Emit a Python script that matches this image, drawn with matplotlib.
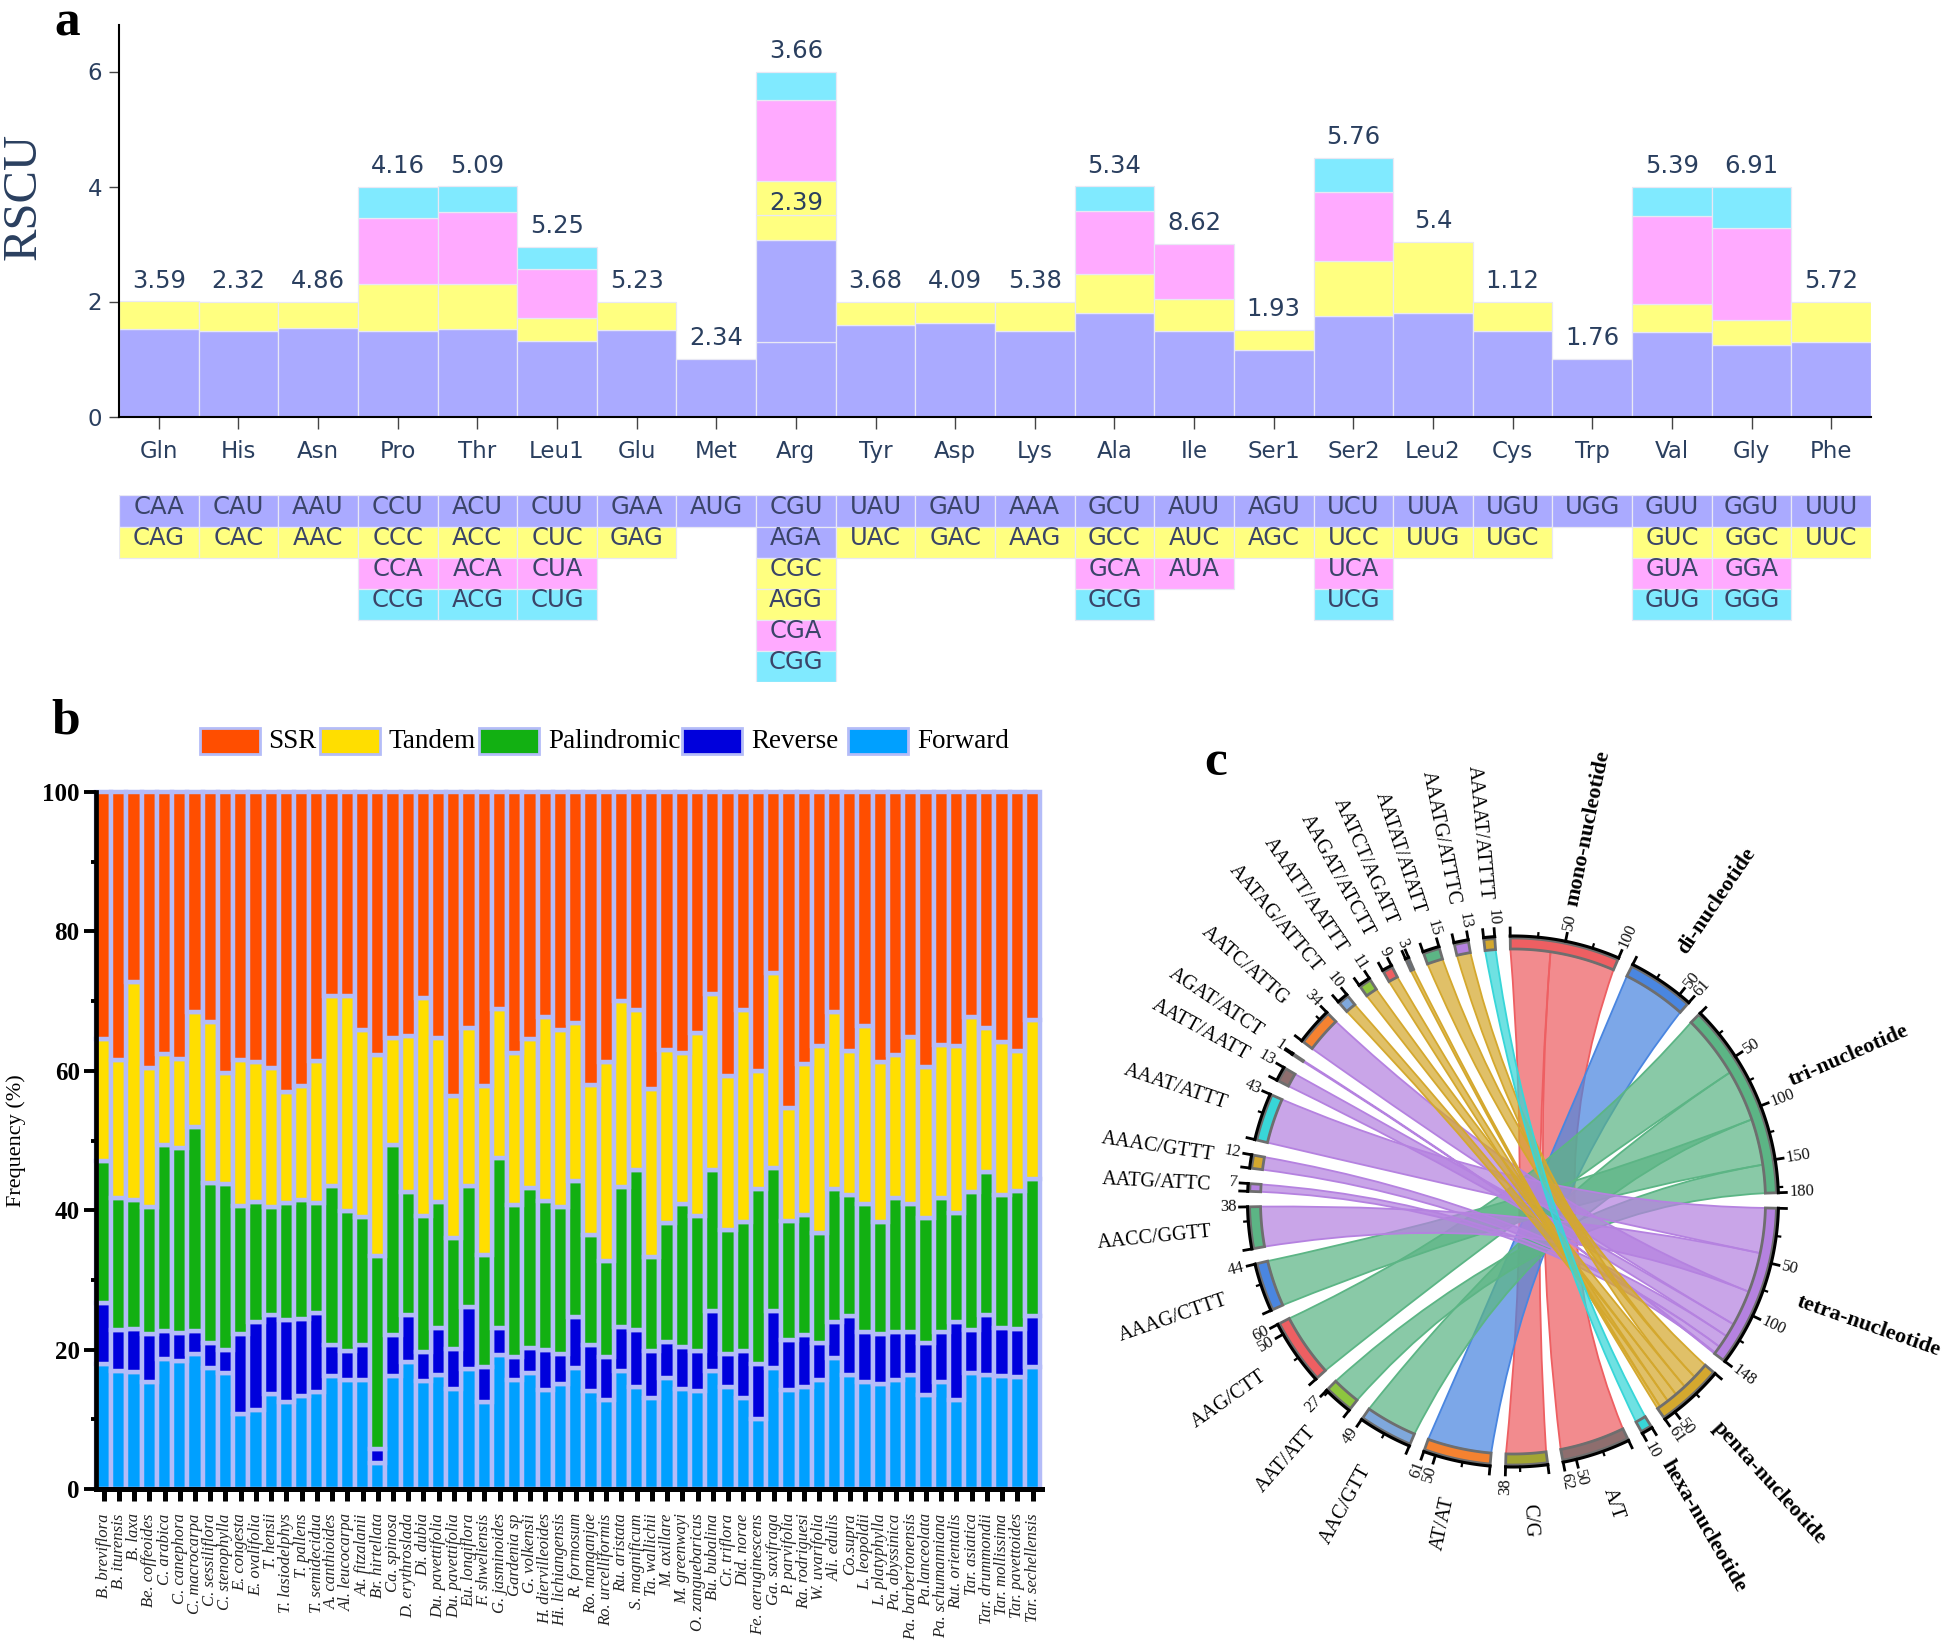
import numpy as np
import matplotlib
matplotlib.use('Agg')
import matplotlib.pyplot as plt
from matplotlib.patches import PathPatch, Rectangle
from matplotlib.path import Path

W, H = 1944, 1641
SERIF = 'Liberation Serif'
NAVY = '#2a3f5f'

# panel a
amino_acids = ['Gln', 'His', 'Asn', 'Pro', 'Thr', 'Leu1', 'Glu', 'Met', 'Arg', 'Tyr', 'Asp', 'Lys',
               'Ala', 'Ile', 'Ser1', 'Ser2', 'Leu2', 'Cys', 'Trp', 'Val', 'Gly', 'Phe']
top_labels = ['3.59', '2.32', '4.86', '4.16', '5.09', '5.25', '5.23', '2.34', '3.66', '3.68', '4.09', '5.38',
              '5.34', '8.62', '1.93', '5.76', '5.4', '1.12', '1.76', '5.39', '6.91', '5.72']
codons = [['CAA', 'CAG'], ['CAU', 'CAC'], ['AAU', 'AAC'], ['CCU', 'CCC', 'CCA', 'CCG'],
          ['ACU', 'ACC', 'ACA', 'ACG'], ['CUU', 'CUC', 'CUA', 'CUG'], ['GAA', 'GAG'], ['AUG'],
          ['CGU', 'AGA', 'CGC', 'AGG', 'CGA', 'CGG'], ['UAU', 'UAC'], ['GAU', 'GAC'], ['AAA', 'AAG'],
          ['GCU', 'GCC', 'GCA', 'GCG'], ['AUU', 'AUC', 'AUA'], ['AGU', 'AGC'],
          ['UCU', 'UCC', 'UCA', 'UCG'], ['UUA', 'UUG'], ['UGU', 'UGC'], ['UGG'],
          ['GUU', 'GUC', 'GUA', 'GUG'], ['GGU', 'GGC', 'GGA', 'GGG'], ['UUU', 'UUC']]
rscu = [[1.52, 0.48], [1.49, 0.51], [1.54, 0.46], [1.49, 0.81, 1.15, 0.55],
        [1.53, 0.78, 1.25, 0.44], [1.31, 0.41, 0.85, 0.38], [1.50, 0.50], [1.00],
        [1.29, 1.78, 0.43, 0.59, 1.41, 0.50], [1.60, 0.40], [1.63, 0.37], [1.48, 0.52],
        [1.80, 0.67, 1.10, 0.43], [1.49, 0.56, 0.95], [1.15, 0.35],
        [1.75, 0.95, 1.20, 0.60], [1.80, 1.23], [1.49, 0.51], [1.00],
        [1.47, 0.49, 1.52, 0.52], [1.24, 0.44, 1.60, 0.72], [1.29, 0.71]]
arg_colours = ['#AAAAFF', '#AAAAFF', '#FFFF80', '#FFFF80', '#FFAAFF', '#80EAFF']
normal_colours = ['#AAAAFF', '#FFFF80', '#FFAAFF', '#80EAFF']

# panel b
species = ['B. breviflora', 'B. iturensis', 'B. laxa', 'Be. coffeoides', 'C. arabica', 'C. canephora',
           'C. macrocarpa', 'C. sessiliflora', 'C. stenophylla', 'E. congesta', 'E. ovalifolia', 'T. hensii',
           'T. lasiodelphys', 'T. pallens', 'T. semidecidua', 'A. canthioides', 'Al. leucocarpa', 'At. fitzalanii',
           'Br. hirtellata', 'Ca. spinosa', 'D. erythroslada', 'Di. dubia', 'Du. pavettifolia', 'Du. pavettifolia',
           'Eu. longiflora', 'F. shweliensis', 'G. jasminoides', 'Gardenia sp', 'G. volkensii', 'H. diervilleoides',
           'Hi. lichiangensis', 'R. formosum', 'Ro. manganjae', 'Ro. urcelliformis', 'Ru. aristata', 'S. magnificum',
           'Ta. wallichii', 'M. axillare', 'M. greenwayi', 'O. zanguebaricus', 'Bu. bubalina', 'Cr. triflora',
           'Did. norae', 'Fe. aeruginescens', 'Ga. saxifraga', 'P. parvifolia', 'Ra. rodriguesi', 'W. uvarifolia',
           'Ali. edulis', 'Co.supra', 'L. leopoldii', 'L. platyphylla', 'Pa. abyssinica', 'Pa. barbertonensis',
           'Pa.lanceolata', 'Pa. schumanniana', 'Rut. orientalis', 'Tar. asiatica', 'Tar. drummondii',
           'Tar. mollissima', 'Tar. pavettoides', 'Tar. sechellensis']
# cumulative tops of each stacked series
forward_top = [18, 17, 16.8, 15.4, 18.6, 18.4, 19.4, 17.3, 16.6, 10.7, 11.4, 13.6, 12.5, 13.3, 13.9, 16.2,
               15.6, 15.7, 3.7, 16.2, 18.2, 15.5, 16.4, 14.3, 17.2, 12.5, 19.2, 15.6, 16.7, 14.2, 15, 17.4,
               14, 12.8, 17, 14.7, 13.1, 15.9, 14.4, 14, 17, 14.6, 13.1, 10, 17.3, 14.2, 14.6, 15.7,
               18.8, 16.4, 15.4, 15, 15.7, 16.4, 13.5, 15.4, 12.8, 16.6, 16.4, 16.2, 16, 17.5]
reverse_top = [26.7, 22.8, 23, 22.3, 22.6, 22.4, 22.7, 20.9, 20, 22.3, 23.9, 24.9, 24.3, 24.4, 25.2, 20.7,
               19.8, 20.6, 5.7, 22.1, 25, 19.6, 23.1, 20.1, 26.1, 17.5, 23.1, 19, 20.2, 20, 19.3, 24.7,
               20.7, 19, 23.3, 22.8, 19.8, 21.1, 20.4, 19.8, 25.6, 19.3, 19.8, 18, 25.6, 21.4, 22.1, 20.9,
               24, 24.8, 22.5, 22.2, 22.5, 22.5, 21, 22.5, 24, 22.8, 24.9, 23.1, 22.9, 24.8]
palin_top = [47, 41.7, 41.5, 40.5, 49.3, 48.9, 51.9, 43.9, 43.8, 40.6, 41.2, 40.4, 41, 41.4, 41, 43.5,
             39.9, 39, 33.5, 49.3, 42.6, 39.2, 41.2, 36, 43.5, 33.6, 47.5, 40.7, 43.2, 41.3, 40.4, 44.2,
             36.5, 32.7, 43.3, 45.7, 33.3, 38.1, 40.9, 39.2, 45.7, 37.1, 38.3, 43.1, 46, 38.4, 39.3, 36.8,
             43.1, 42.2, 40.9, 38.3, 41.7, 40.9, 38.9, 41.7, 39.6, 42.6, 45.5, 42.2, 42.8, 44.5]
tandem_top = [64.5, 61.5, 72.8, 60.4, 62.4, 61.7, 68.5, 67, 59.7, 61.6, 61.2, 60.4, 57, 57.8, 61.4, 70.8,
              70.7, 65.9, 62.3, 64.7, 65, 70.4, 64.7, 56.4, 66.2, 57.8, 68.9, 62.5, 64.6, 67.7, 65.9, 66.8,
              57.9, 61.2, 70, 68.7, 57.4, 63, 62.5, 65.4, 71, 59.3, 68.7, 60, 74, 54.7, 61, 63.5,
              68.5, 62.9, 66.4, 61.2, 62.2, 64.9, 60.5, 63.7, 63.5, 67.7, 66.1, 64.1, 62.8, 67.3]
legend_names = ['SSR', 'Tandem', 'Palindromic', 'Reverse', 'Forward']
legend_colours = ['#FF4E00', '#FFDE00', '#12B012', '#0000DC', '#00A0FF']

# panel c
group_names = ['mono-nucleotide', 'di-nucleotide', 'tri-nucleotide', 'tetra-nucleotide', 'penta-nucleotide',
               'hexa-nucleotide']
group_sizes = [100, 61, 180, 148, 61, 10]
group_colours = ['#EE5F62', '#4A86E0', '#5CB585', '#B582E0', '#D4A82E', '#38D6D8']
item_names = ['A/T', 'C/G', 'AT/AT', 'AAC/GTT', 'AAT/ATT', 'AAG/CTT', 'AAAG/CTTT', 'AACC/GGTT', 'AATG/ATTC',
              'AAAC/GTTT', 'AAAT/ATTT', 'AATT/AATT', 'AGAT/ATCT', 'AATC/ATTG', 'AATAG/ATTCT', 'AAATT/AATTT',
              'AAGAT/ATCTT', 'AATCT/AGATT', 'AATAT/ATATT', 'AAATG/ATTTC', 'AAAAT/ATTTT']
item_sizes = [62, 38, 61, 49, 27, 60, 44, 38, 7, 12, 43, 13, 1, 34, 10, 11, 9, 3, 15, 13, 10]
item_colours = ['#8E6E6E', '#A3A534', '#F58230', '#7FA8DC', '#8DC63F', '#EE5F62', '#4A86E0', '#5CB585', '#B582E0',
                '#D4A82E', '#38D6D8', '#8E6E6E', '#A3A534', '#F58230', '#7FA8DC', '#8DC63F', '#EE5F62', '#5A7090',
                '#5CB585', '#B582E0', '#D4A82E']
group_members = [['C/G', 'A/T'], ['AT/AT'], ['AAG/CTT', 'AAC/GTT', 'AAAG/CTTT', 'AAT/ATT'],
                 ['AAAT/ATTT', 'AACC/GGTT', 'AATC/ATTG', 'AATT/AATT', 'AAAC/GTTT', 'AATG/ATTC', 'AGAT/ATCT'],
                 ['AATAT/ATATT', 'AAATG/ATTTC', 'AAATT/AATTT', 'AATAG/ATTCT', 'AAGAT/ATCTT', 'AATCT/AGATT'],
                 ['AAAAT/ATTTT']]


def px_axes(x0, y0, x1, y1):
    return fig.add_axes([x0 / W, 1 - y1 / H, (x1 - x0) / W, (y1 - y0) / H])


fig = plt.figure(figsize=(W / 100, H / 100), dpi=100, facecolor='white')

# ---- a: stacked RSCU bars
ax_a = px_axes(119, 25, 1871, 416.5)
for i in range(len(amino_acids)):
    bottom = 0
    colours = arg_colours if amino_acids[i] == 'Arg' else normal_colours
    for j in range(len(rscu[i])):
        ax_a.bar(i, rscu[i][j], bottom=bottom, width=1, color=colours[j], edgecolor='#E8E8F4', linewidth=0.9)
        bottom += rscu[i][j]
    ax_a.annotate(top_labels[i], (i, bottom), xytext=(0, 15), textcoords='offset points',
                  ha='center', va='center', fontsize=17.5, color=NAVY)
ax_a.text(8, 3.71, '2.39', ha='center', va='center', fontsize=17.5, color=NAVY)
ax_a.set_xlim(-0.5, 21.5)
ax_a.set_ylim(0, 391.5 / 57.5)
ax_a.set_yticks([0, 2, 4, 6])
ax_a.set_xticks(range(len(amino_acids)))
ax_a.set_xticklabels(amino_acids)
ax_a.tick_params(axis='x', length=8.5, width=1, color='#444444', labelsize=16.5, labelcolor=NAVY, pad=8.5)
ax_a.tick_params(axis='y', length=7, width=1, color='#444444', labelsize=16.5, labelcolor=NAVY, pad=5)
ax_a.spines['top'].set_visible(False)
ax_a.spines['right'].set_visible(False)
ax_a.spines['left'].set_linewidth(1.5)
ax_a.spines['bottom'].set_linewidth(1.5)

# codon table under the bars
ax_t = px_axes(119, 495.5, 1871, 681.7)
for i in range(len(codons)):
    colours = arg_colours if amino_acids[i] == 'Arg' else normal_colours
    for j in range(len(codons[i])):
        ax_t.bar(i, 1, bottom=j, width=1, color=colours[j], edgecolor='#E8E8F4', linewidth=0.9)
        ax_t.text(i, j + 0.38, codons[i][j], ha='center', va='center', fontsize=17.5, color='#3a4468')
ax_t.set_xlim(-0.5, 21.5)
ax_t.set_ylim(6, 0)
ax_t.axis('off')

# ---- b: repeat frequency
ax_b = px_axes(95.7, 792, 1042, 1489)
x_b = np.arange(len(species))
tops = [forward_top, reverse_top, palin_top, tandem_top, [100] * len(species)]
series_colours = legend_colours[::-1]
bottoms = np.zeros(len(species))
for k in range(len(tops)):
    values = np.array(tops[k], dtype=float)
    ax_b.bar(x_b, values - bottoms, bottom=bottoms, width=1, color=series_colours[k],
             edgecolor='#B4BCF8', linewidth=3.2, clip_on=False)
    bottoms = values
ax_b.set_xlim(-0.52, 61.62)
ax_b.set_ylim(0, 100)
ax_b.set_xticks(x_b)
ax_b.set_xticklabels(species, rotation=90, fontfamily=SERIF, fontstyle='italic', fontsize=12, color='#222222')
ax_b.set_yticks(range(0, 101, 20))
ax_b.set_yticks(range(10, 100, 20), minor=True)
ax_b.set_yticklabels(range(0, 101, 20), fontfamily=SERIF, fontweight='bold', fontsize=18)
ax_b.tick_params(axis='x', length=8.5, width=3.6, color='black', pad=9)
ax_b.tick_params(axis='y', which='major', length=8.5, width=2.8, color='black', pad=3)
ax_b.tick_params(axis='y', which='minor', length=3.5, width=2.8, color='black')
ax_b.spines['top'].set_visible(False)
ax_b.spines['right'].set_visible(False)
ax_b.spines['left'].set_linewidth(3.4)
ax_b.spines['bottom'].set_linewidth(3.6)
ax_b.spines['left'].set_zorder(10)
ax_b.spines['bottom'].set_zorder(10)
ax_b.set_ylabel('Frequency (%)', fontfamily=SERIF, fontsize=16)
ax_b.yaxis.set_label_coords((26 - 95.7) / 946.3, 0.5)

# ---- overlay for letters, legend and RSCU title
ov = fig.add_axes([0, 0, 1, 1], facecolor='none')
ov.set_xlim(0, W)
ov.set_ylim(H, 0)
ov.axis('off')
for letter, x, y in [('a', 67, 36), ('b', 66, 734), ('c', 1216, 775)]:
    ov.text(x, y, letter, fontfamily=SERIF, fontweight='bold', fontsize=37, ha='center', va='baseline')
ov.text(24, 196, 'RSCU', fontfamily=SERIF, fontsize=35, color=NAVY, rotation=90, ha='center', va='center')
legend_x = [200, 320, 479, 682, 848]
text_x = [268, 388, 548, 751, 917]
for i in range(len(legend_names)):
    ov.add_patch(Rectangle((legend_x[i], 728), 60, 26, facecolor=legend_colours[i], edgecolor='#B4BCF8', linewidth=2))
    ov.text(text_x[i], 742, legend_names[i], fontfamily=SERIF, fontsize=19.5, ha='left', va='center')

# ---- c: chord diagram, angles are clockwise from north
cx, cy, R = 1513, 1201.5, 265.5
GAP = 3.36
START = -0.6
CONTROL = (18, -3)
ribbon_r = R - 13
ax_c = fig.add_axes([0, 0, 1, 1], facecolor='none')
ax_c.set_xlim(-cx, W - cx)
ax_c.set_ylim(cy - H, cy)
ax_c.axis('off')

all_names = group_names + item_names
all_sizes = group_sizes + item_sizes
all_colours = group_colours + item_colours
unit = (360 - GAP * len(all_sizes)) / sum(all_sizes)
starts = {}
angle = START
for i in range(len(all_names)):
    starts[all_names[i]] = angle
    angle += all_sizes[i] * unit + GAP


def polar(r, theta):
    t = np.radians(theta)
    return r * np.sin(t), r * np.cos(t)


def arc_points(r, a0, a1):
    n = max(int(abs(a1 - a0)) * 2, 2)
    return [polar(r, t) for t in np.linspace(a0, a1, n)]


def radial_text(r, theta, text, **kwargs):
    x, y = polar(r, theta)
    if theta % 360 < 180:
        rot, ha = 90 - theta, 'left'
    else:
        rot, ha = 270 - theta, 'right'
    ax_c.text(x, y, text, rotation=rot, ha=ha, va='center', rotation_mode='anchor', fontfamily=SERIF, **kwargs)


def draw_ribbon(a0, a1, b0, b1, colour):
    first = arc_points(ribbon_r, a0, a1)
    second = arc_points(ribbon_r, b0, b1)
    verts = first + [CONTROL, second[0]] + second[1:] + [CONTROL, first[0], first[0]]
    codes = [Path.MOVETO] + [Path.LINETO] * (len(first) - 1) + [Path.CURVE3, Path.CURVE3]
    codes += [Path.LINETO] * (len(second) - 1) + [Path.CURVE3, Path.CURVE3, Path.CLOSEPOLY]
    ax_c.add_patch(PathPatch(Path(verts, codes), facecolor=matplotlib.colors.to_rgba(colour, 0.72),
                             edgecolor=colour, linewidth=1.3))


for i in range(len(group_names)):
    pos = starts[group_names[i]]
    for member in group_members[i]:
        size = item_sizes[item_names.index(member)]
        b0 = starts[member]
        draw_ribbon(pos, pos + size * unit, b0, b0 + size * unit, group_colours[i])
        pos += size * unit

for i in range(len(all_names)):
    a0 = starts[all_names[i]]
    a1 = a0 + all_sizes[i] * unit
    outer = arc_points(R - 2, a0, a1)
    inner = arc_points(ribbon_r, a1, a0)
    ax_c.fill(*zip(*(outer + inner)), facecolor=all_colours[i], edgecolor='#6e6e6e', linewidth=2, zorder=5)
    ax_c.plot(*zip(*arc_points(R, a0, a1)), color='black', linewidth=2.2, zorder=6, solid_capstyle='projecting')

    size = all_sizes[i]
    major = [v for v in range(0, size, 50)] + [size]
    minor = [v for v in range(25, size, 50)]
    for v in major:
        t = a0 + v * unit
        ax_c.plot(*zip(polar(R, t), polar(R + 8, t)), color='black', linewidth=2, zorder=6)
        if v > 0:
            radial_text(R + 11, t, str(v), fontsize=12, color='#111111')
    for v in minor:
        t = a0 + v * unit
        ax_c.plot(*zip(polar(R, t), polar(R + 4, t)), color='black', linewidth=1.6, zorder=6)
    if i < len(group_names):
        radial_text(R + 36, (a0 + a1) / 2, all_names[i], fontsize=16, fontweight='bold')
    else:
        radial_text(R + 37, (a0 + a1) / 2, all_names[i], fontsize=14.5)

fig.savefig('out.png', dpi=100)
